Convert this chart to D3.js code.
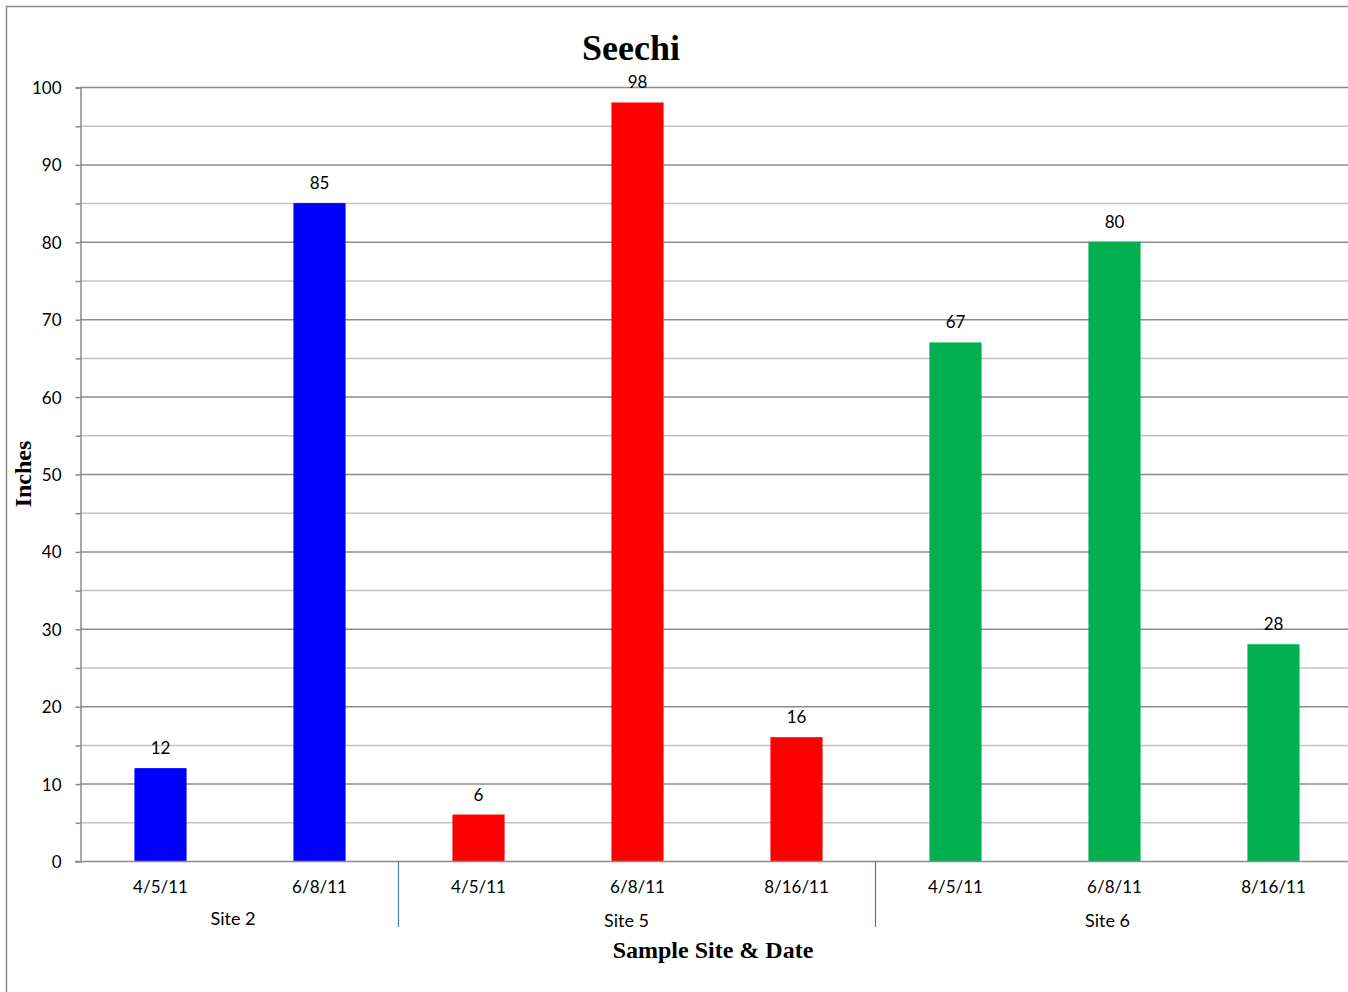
<!DOCTYPE html>
<html>
<head>
<meta charset="utf-8">
<script src="https://cdn.jsdelivr.net/npm/d3@7"></script>
<style>
  html, body { margin: 0; padding: 0; background: #fff; }
  svg { display: block; }
</style>
</head>
<body>
<svg id="chart" width="1348" height="992"></svg>
<script>
// Secchi depth readings (inches) per sample date, grouped by site
const sites = ["Site 2", "Site 5", "Site 6"];
const dates = ["4/5/11", "6/8/11", "4/5/11", "6/8/11", "8/16/11", "4/5/11", "6/8/11", "8/16/11"];
const siteOf = ["Site 2", "Site 2", "Site 5", "Site 5", "Site 5", "Site 6", "Site 6", "Site 6"];
const values = [12, 85, 6, 98, 16, 67, 80, 28];
const siteColors = ["#0000ff", "#ff0000", "#00b050"];
const yTicks = [0, 10, 20, 30, 40, 50, 60, 70, 80, 90, 100];

const svg = d3.select("#chart");
const plotLeft = 80, plotRight = 1352, plotTop = 87, plotBottom = 861;
const labelFont = "Lato, 'Open Sans', sans-serif";
const serif = "'Liberation Serif', 'Times New Roman', serif";

// Outer chart frame
svg.append("rect")
  .attr("x", 6.5).attr("y", 6.5)
  .attr("width", 1400).attr("height", 1100)
  .attr("fill", "none").attr("stroke", "#8c8c8c").attr("stroke-width", 1.5);

const idx = d3.range(values.length);
const x = d3.scaleBand().domain(idx).range([plotLeft + 1, plotRight + 1]).paddingInner(0.672).paddingOuter(0.336);
const y = d3.scaleLinear().domain([0, 100]).range([plotBottom, plotTop]);
const color = d3.scaleOrdinal().domain(sites).range(siteColors);

// Gridlines: minor every 5, major every 10
const minor = d3.range(5, 100, 10);
svg.append("g").selectAll("line").data(minor).join("line")
  .attr("x1", plotLeft).attr("x2", 1348)
  .attr("y1", d => y(d) + 0.5).attr("y2", d => y(d) + 0.5)
  .attr("stroke", "#c4c4c4").attr("stroke-width", 1.5);
svg.append("g").selectAll("line").data(yTicks.filter(d => d > 0)).join("line")
  .attr("x1", plotLeft).attr("x2", 1348)
  .attr("y1", d => y(d) + 0.5).attr("y2", d => y(d) + 0.5)
  .attr("stroke", "#8c8c8c").attr("stroke-width", 1.5);

// Y axis with major and minor tick marks
const yAxis = d3.axisLeft(y).tickValues(d3.range(0, 101, 5)).tickSize(5)
  .tickFormat(d => yTicks.includes(d) ? d : "");
const gy = svg.append("g").attr("transform", `translate(${plotLeft + 0.5},0.5)`).call(yAxis);
gy.select(".domain").attr("stroke", "#8c8c8c").attr("stroke-width", 1.5);
gy.selectAll(".tick line").attr("stroke", "#8c8c8c").attr("stroke-width", 1.5);
gy.selectAll(".tick text")
  .attr("x", -19).attr("dy", "0.35em")
  .attr("font-family", labelFont).attr("font-size", 17).attr("fill", "#000");

// Bars
svg.append("g").selectAll("rect").data(idx).join("rect")
  .attr("x", i => x(i)).attr("width", x.bandwidth())
  .attr("y", i => y(values[i])).attr("height", i => y(0) - y(values[i]))
  .attr("fill", i => color(siteOf[i]));

// Value labels
svg.append("g").selectAll("text").data(idx).join("text")
  .attr("x", i => x(i) + x.bandwidth() / 2)
  .attr("y", i => y(values[i]) - 14)
  .attr("text-anchor", "middle")
  .attr("font-family", labelFont).attr("font-size", 17).attr("fill", "#000")
  .text(i => values[i]);

// X axis baseline
svg.append("line")
  .attr("x1", plotLeft - 5).attr("x2", 1348)
  .attr("y1", plotBottom + 0.5).attr("y2", plotBottom + 0.5)
  .attr("stroke", "#8c8c8c").attr("stroke-width", 1.5);

// Date labels
svg.append("g").selectAll("text").data(idx).join("text")
  .attr("x", i => x(i) + x.bandwidth() / 2)
  .attr("y", 893)
  .attr("text-anchor", "middle")
  .attr("font-family", labelFont).attr("font-size", 17).attr("fill", "#000")
  .text(i => dates[i]);

// Site groups: separators and centered names
const step = x.step();
const groups = sites.map(s => {
  const members = idx.filter(i => siteOf[i] === s);
  const x0 = plotLeft + step * d3.min(members);
  const x1 = plotLeft + step * (d3.max(members) + 1);
  return { site: s, x0, x1 };
});
svg.append("g").selectAll("line").data(groups.slice(1)).join("line")
  .attr("x1", g => g.x0 + 0.5).attr("x2", g => g.x0 + 0.5)
  .attr("y1", plotBottom).attr("y2", 927)
  .attr("stroke", "#4a7ebb").attr("stroke-width", 1.2);
svg.append("g").selectAll("text").data(groups).join("text")
  .attr("x", (g, i) => (g.x0 + g.x1) / 2 - (i === 1 ? 10 : 6))
  .attr("y", (g, i) => i === 0 ? 925 : 927)
  .attr("text-anchor", "middle")
  .attr("font-family", labelFont).attr("font-size", 18).attr("fill", "#000")
  .text(g => g.site);

// Titles
svg.append("text")
  .attr("x", 631).attr("y", 60)
  .attr("text-anchor", "middle")
  .attr("font-family", serif).attr("font-weight", "bold").attr("font-size", 36)
  .text("Seechi");
svg.append("text")
  .attr("transform", "translate(31,474) rotate(-90)")
  .attr("text-anchor", "middle")
  .attr("font-family", serif).attr("font-weight", "bold").attr("font-size", 24)
  .text("Inches");
svg.append("text")
  .attr("x", 713).attr("y", 958)
  .attr("text-anchor", "middle")
  .attr("font-family", serif).attr("font-weight", "bold").attr("font-size", 24)
  .text("Sample Site & Date");
</script>
</body>
</html>
